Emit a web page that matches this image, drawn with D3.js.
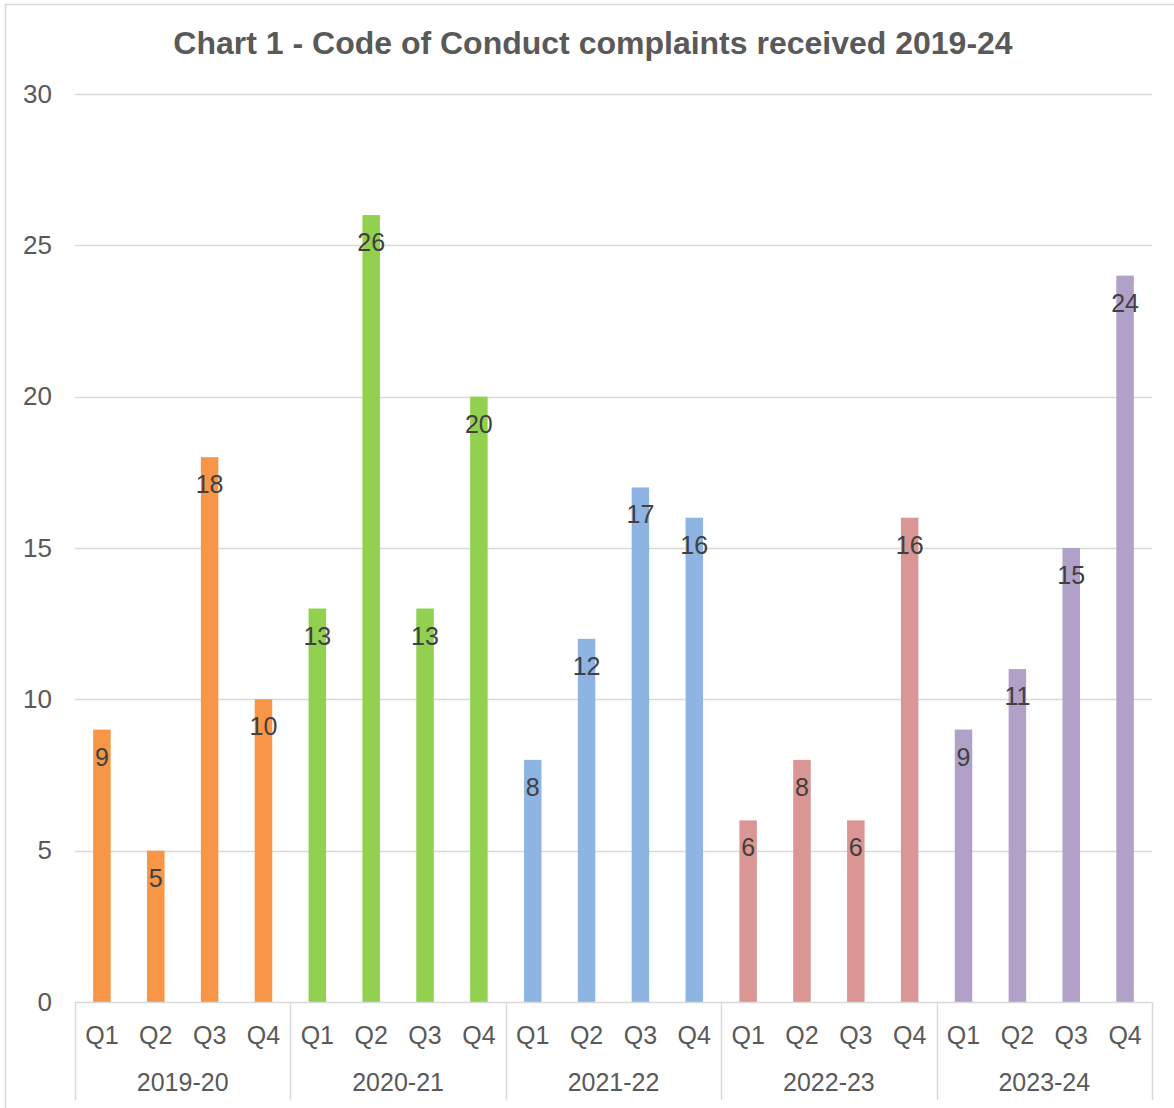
<html>
<head>
<style>
  body { margin: 0; background: #fff; }
  text { font-family: "Liberation Sans", Arial, sans-serif; }
</style>
</head>
<body>
  <div id = 'chart'></div>
  <script src = 'https://cdn.jsdelivr.net/npm/d3@7/dist/d3.min.js'></script>
  <script>
    var years = ['2019-20', '2020-21', '2021-22', '2022-23', '2023-24'],
        quarters = ['Q1', 'Q2', 'Q3', 'Q4'],
        yearColors = ['#F79646', '#92D050', '#8DB4E2', '#DA9694', '#B1A0C7'],
        complaints = [
          [9, 5, 18, 10],
          [13, 26, 13, 20],
          [8, 12, 17, 16],
          [6, 8, 6, 16],
          [9, 11, 15, 24]
        ],
        yTicks = [0, 5, 10, 15, 20, 25, 30];

    var width = 1174, height = 1108,
        plotLeft = 75, plotRight = 1152, plotTop = 94, plotBottom = 1002;

    var svg = d3.select('#chart').append('svg')
      .attr('width', width)
      .attr('height', height);

    // flatten into one row per bar
    var rows = [];
    years.forEach(function(y, gi){
      quarters.forEach(function(q, qi){
        rows.push({ key: y + ' ' + q, year: y, q: q, value: complaints[gi][qi], g: gi });
      });
    });

    var x = d3.scaleBand().domain(rows.map(function(d){ return d.key; }))
      .range([plotLeft, plotRight]);
    var groupX = d3.scaleBand().domain(years).range([plotLeft, plotRight]);
    var yScale = d3.scaleLinear().domain([0, 30]).range([plotBottom, plotTop]);

    // chart border
    svg.append('rect')
      .attr('x', 5.5).attr('y', 4.5)
      .attr('width', 1190).attr('height', 1120)
      .attr('fill', 'none').attr('stroke', '#d9d9d9').attr('stroke-width', 1.5);

    svg.append('text')
      .attr('x', 593).attr('y', 54)
      .attr('text-anchor', 'middle')
      .attr('font-size', 32).attr('font-weight', 'bold')
      .attr('fill', '#595959')
      .text('Chart 1 - Code of Conduct complaints received 2019-24');

    // gridlines
    svg.append('g').selectAll('line')
      .data(yTicks.filter(function(d){ return d > 0; }))
      .enter().append('line')
      .attr('x1', plotLeft).attr('x2', plotRight)
      .attr('y1', function(d){ return Math.round(yScale(d)) + 0.5; })
      .attr('y2', function(d){ return Math.round(yScale(d)) + 0.5; })
      .attr('stroke', '#d9d9d9').attr('stroke-width', 1.5);

    var yAxis = svg.append('g')
      .attr('transform', 'translate(' + (plotLeft - 23) + ',0)')
      .call(d3.axisLeft(yScale).tickValues(yTicks).tickSize(0).tickPadding(0));
    yAxis.select('.domain').remove();
    yAxis.selectAll('text')
      .attr('font-size', 26).attr('fill', '#595959')
      .style('font-family', '"Liberation Sans", Arial, sans-serif');

    // bars
    var bw = 17.5;
    svg.append('g').selectAll('rect')
      .data(rows)
      .enter().append('rect')
      .attr('x', function(d){ return x(d.key) + x.bandwidth() / 2 - bw / 2; })
      .attr('y', function(d){ return yScale(d.value); })
      .attr('width', bw)
      .attr('height', function(d){ return plotBottom - yScale(d.value); })
      .attr('fill', function(d){ return yearColors[d.g]; });

    // data labels
    svg.append('g').selectAll('text')
      .data(rows)
      .enter().append('text')
      .attr('x', function(d){ return x(d.key) + x.bandwidth() / 2; })
      .attr('y', function(d){ return yScale(d.value) + 36; })
      .attr('text-anchor', 'middle')
      .attr('font-size', 25).attr('fill', '#404040')
      .text(function(d){ return d.value; });

    // x axis line and group separators
    svg.append('line')
      .attr('x1', plotLeft).attr('x2', plotRight)
      .attr('y1', plotBottom + 0.5).attr('y2', plotBottom + 0.5)
      .attr('stroke', '#d9d9d9').attr('stroke-width', 1.5);

    var seps = years.map(function(y){ return groupX(y); }).concat([plotRight]);
    svg.append('g').selectAll('line')
      .data(seps)
      .enter().append('line')
      .attr('x1', function(d){ return Math.round(d) + 0.5; })
      .attr('x2', function(d){ return Math.round(d) + 0.5; })
      .attr('y1', plotBottom).attr('y2', 1100)
      .attr('stroke', '#d9d9d9').attr('stroke-width', 1.5);

    // quarter labels
    svg.append('g').selectAll('text')
      .data(rows)
      .enter().append('text')
      .attr('x', function(d){ return x(d.key) + x.bandwidth() / 2; })
      .attr('y', 1044)
      .attr('text-anchor', 'middle')
      .attr('font-size', 25).attr('fill', '#595959')
      .text(function(d){ return d.q; });

    // year labels
    svg.append('g').selectAll('text')
      .data(years)
      .enter().append('text')
      .attr('x', function(d){ return groupX(d) + groupX.bandwidth() / 2; })
      .attr('y', 1091)
      .attr('text-anchor', 'middle')
      .attr('font-size', 25).attr('fill', '#595959')
      .text(function(d){ return d; });
  </script>
</body>
</html>
